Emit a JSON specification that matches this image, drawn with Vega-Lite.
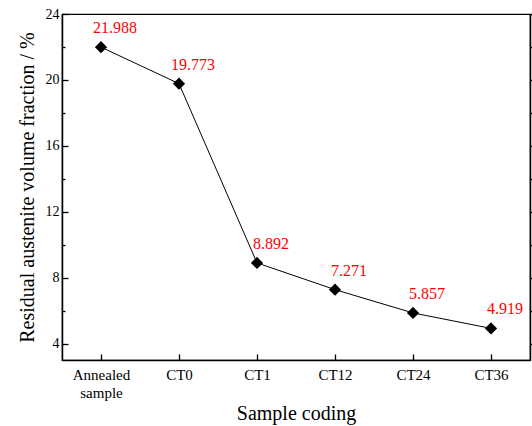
{
  "$schema": "https://vega.github.io/schema/vega-lite/v6.json",
  "width": 468,
  "height": 346,
  "autosize": {"type": "none"},
  "padding": {"left": 62, "top": 14, "right": 2, "bottom": 66},
  "config": {
    "view": {"stroke": "black", "strokeWidth": 1.2},
    "font": "Liberation Serif",
    "axis": {"domainColor": "black", "tickColor": "black", "labelColor": "black", "titleColor": "black", "domainWidth": 1.5, "tickWidth": 1.3, "grid": false, "labelFont": "Liberation Serif", "titleFont": "Liberation Serif", "titleFontWeight": "normal"}
  },
  "data": {"values": [
    {"sample": "Annealed sample", "fraction": 21.988},
    {"sample": "CT0", "fraction": 19.773},
    {"sample": "CT1", "fraction": 8.892},
    {"sample": "CT12", "fraction": 7.271},
    {"sample": "CT24", "fraction": 5.857},
    {"sample": "CT36", "fraction": 4.919}
  ]},
  "encoding": {
    "x": {"field": "sample", "type": "nominal", "sort": null,
      "scale": {"type": "point", "padding": 0.5},
      "axis": {"title": "Sample coding", "titleFontSize": 20, "titlePadding": 3, "labelAngle": 0, "labelFontSize": 15, "labelPadding": 13, "labelBaseline": "top", "labelLineHeight": 18, "tickSize": -6,
        "labelExpr": "datum.label == 'Annealed sample' ? ['Annealed', 'sample'] : datum.label"}},
    "y": {"field": "fraction", "type": "quantitative",
      "scale": {"domain": [3, 24], "nice": false, "zero": false}, "axis": null}
  },
  "layer": [
    {
      "mark": {"type": "line", "color": "black", "strokeWidth": 1},
      "encoding": {
        "y": {"field": "fraction", "type": "quantitative",
          "scale": {"domain": [3, 24], "nice": false, "zero": false},
          "axis": {"title": "Residual austenite volume fraction / %", "titleFontSize": 20, "titlePadding": 8, "labelFontSize": 14, "values": [4, 6, 8, 10, 12, 14, 16, 18, 20, 22, 24],
            "labelExpr": "datum.value % 4 == 0 ? datum.label : ''",
            "tickSize": {"condition": {"test": "datum.value % 4 == 0", "value": -6}, "value": -3},
            "labelPadding": 9}}
      }
    },
    {
      "mark": {"type": "point", "shape": "diamond", "filled": true, "color": "black", "size": 150, "opacity": 1},
      "encoding": {
        "y": {"field": "fraction", "type": "quantitative",
          "scale": {"domain": [3, 24], "nice": false, "zero": false},
          "axis": {"orient": "right", "title": null, "labels": false, "values": [4, 6, 8, 10, 12, 14, 16, 18, 20, 22, 24],
            "tickSize": {"condition": {"test": "datum.value % 4 == 0", "value": 6}, "value": 3}}}
      }
    },
    {
      "mark": {"type": "text", "color": "#ff0000", "fontSize": 16, "font": "Liberation Serif", "dx": 14, "dy": -14, "baseline": "alphabetic", "align": "center"},
      "encoding": {
        "text": {"field": "fraction", "type": "quantitative", "format": ".3f"}
      }
    }
  ],
  "resolve": {"axis": {"y": "independent"}}
}
